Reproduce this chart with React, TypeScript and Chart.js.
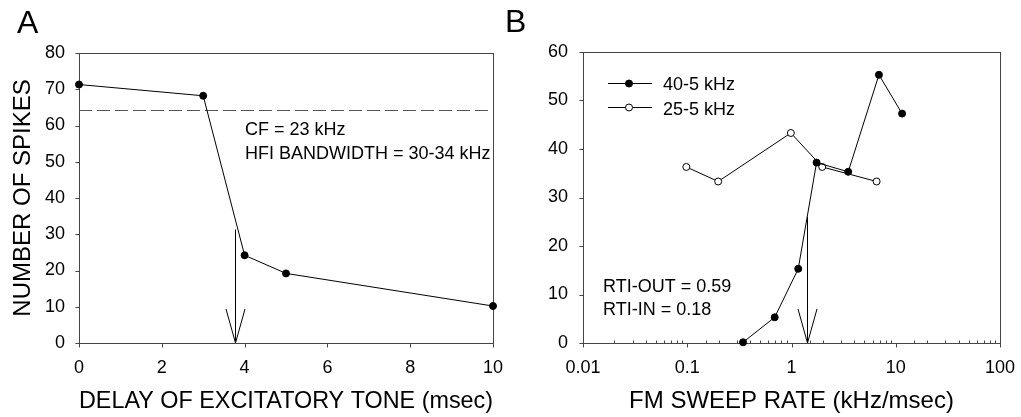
import React, { useEffect, useRef } from 'react';
import { Chart, registerables } from 'chart.js';

Chart.register(...registerables);

const FONT = "'Liberation Sans', Arial, Helvetica, sans-serif";

// ---------- Panel A data ----------
const delayMs = [0, 3, 4, 5, 10];
const delaySpikes = [71.3, 68.2, 24.2, 19.2, 10.2];
const delayRefLevel = 64.2;
const delayArrowX = 3.78;
const delayArrowTop = 31.3;
const delayXLabelStep = 2;
const delayYLabelStep = 10;
const delayXTitle = 'DELAY OF EXCITATORY TONE (msec)';
const delayYTitle = 'NUMBER OF SPIKES';
const delayNotes = ['CF = 23 kHz', 'HFI BANDWIDTH = 30-34 kHz'];

// ---------- Panel B data ----------
const rate40 = [0.343, 0.69, 1.16, 1.74, 3.5, 6.9, 11.5];
const spikes40 = [0.15, 5.3, 15.3, 37.2, 35.3, 55.3, 47.3];
const rate25 = [0.098, 0.198, 0.986, 1.97, 6.55];
const spikes25 = [36.3, 33.3, 43.3, 36.3, 33.3];
const rateArrowX = 1.42;
const rateArrowTop = 26;
const rateXTickValues = [0.01, 0.1, 1, 10, 100];
const rateXTickLabels = ['0.01', '0.1', '1', '10', '100'];
const rateYLabelStep = 10;
const rateXTitle = 'FM SWEEP RATE (kHz/msec)';
const seriesNames = ['40-5 kHz', '25-5 kHz'];
const rateNotes = ['RTI-OUT = 0.59', 'RTI-IN = 0.18'];

const c = (v: number) => Math.round(v) + 0.5;

function drawFrame(chart: any, logMinor: boolean) {
  const { ctx, chartArea: a, scales } = chart;
  ctx.save();
  ctx.strokeStyle = '#444';
  ctx.lineWidth = 1;
  ctx.strokeRect(c(a.left), c(a.top), Math.round(a.right) - Math.round(a.left), Math.round(a.bottom) - Math.round(a.top));
  ctx.beginPath();
  for (const t of scales.y.ticks) {
    const y = c(scales.y.getPixelForValue(t.value));
    ctx.moveTo(c(a.left), y);
    ctx.lineTo(c(a.left) - 4, y);
  }
  for (const t of scales.x.ticks) {
    const x = c(scales.x.getPixelForValue(t.value));
    const isMajor = !logMinor || rateXTickValues.some((v) => Math.abs(v - t.value) / v < 1e-6);
    ctx.moveTo(x, c(a.bottom));
    ctx.lineTo(x, c(a.bottom) + (isMajor ? 4 : -3));
  }
  ctx.stroke();
  ctx.restore();
}

function drawArrow(chart: any, xv: number, topv: number) {
  const { ctx, scales } = chart;
  const x = c(scales.x.getPixelForValue(xv));
  const yTop = scales.y.getPixelForValue(topv);
  const yBot = scales.y.getPixelForValue(0);
  ctx.save();
  ctx.strokeStyle = '#000';
  ctx.lineWidth = 1;
  ctx.beginPath();
  ctx.moveTo(x, yTop);
  ctx.lineTo(x, yBot);
  ctx.moveTo(x - 9.5, yBot - 34);
  ctx.lineTo(x, yBot);
  ctx.lineTo(x + 9.5, yBot - 34);
  ctx.stroke();
  ctx.restore();
}

function text(ctx: any, s: string, x: number, y: number, size: number) {
  ctx.save();
  ctx.fillStyle = '#000';
  ctx.font = `${size}px ${FONT}`;
  ctx.textBaseline = 'alphabetic';
  ctx.textAlign = 'left';
  ctx.fillText(s, x, y);
  ctx.restore();
}

const decorA = {
  id: 'decorA',
  beforeDatasetsDraw(chart: any) {
    const { ctx, chartArea: a, scales } = chart;
    drawFrame(chart, false);
    const y = c(scales.y.getPixelForValue(delayRefLevel));
    ctx.save();
    ctx.strokeStyle = '#555';
    ctx.lineWidth = 1;
    ctx.setLineDash([13, 5]);
    ctx.beginPath();
    ctx.moveTo(a.left, y);
    ctx.lineTo(a.right, y);
    ctx.stroke();
    ctx.restore();
  },
  afterDatasetsDraw(chart: any) {
    const { ctx } = chart;
    drawArrow(chart, delayArrowX, delayArrowTop);
    text(ctx, delayNotes[0], 245, 135, 18);
    text(ctx, delayNotes[1], 245, 159, 18);
    text(ctx, 'A', 17, 33, 32);
  },
};

const decorB = {
  id: 'decorB',
  beforeDatasetsDraw(chart: any) {
    drawFrame(chart, true);
  },
  afterDatasetsDraw(chart: any) {
    const { ctx } = chart;
    drawArrow(chart, rateArrowX, rateArrowTop);
    // legend
    const rows = [
      { y: 83, fill: '#000', base: 90 },
      { y: 107, fill: '#fff', base: 115 },
    ];
    rows.forEach((r, i) => {
      ctx.save();
      ctx.strokeStyle = '#000';
      ctx.lineWidth = 1;
      ctx.beginPath();
      ctx.moveTo(118, c(r.y));
      ctx.lineTo(162, c(r.y));
      ctx.stroke();
      ctx.beginPath();
      ctx.arc(139, r.y + 0.5, 3.5, 0, Math.PI * 2);
      ctx.fillStyle = r.fill;
      ctx.fill();
      ctx.stroke();
      ctx.restore();
      text(ctx, seriesNames[i], 173, r.base, 18);
    });
    text(ctx, rateNotes[0], 113, 292, 18);
    text(ctx, rateNotes[1], 113, 315, 18);
    text(ctx, 'B', 15, 32, 32);
  },
};

const tickFont = { size: 18, family: FONT };
const titleFont = { size: 24, family: FONT, lineHeight: 1.2 };

function configA(): any {
  return {
    type: 'scatter',
    data: {
      datasets: [
        {
          data: delayMs.map((x, i) => ({ x, y: delaySpikes[i] })),
          showLine: true,
          borderColor: '#000',
          borderWidth: 1,
          pointRadius: 3.5,
          pointBackgroundColor: '#000',
          pointBorderColor: '#000',
          pointBorderWidth: 1,
          clip: false,
        },
      ],
    },
    options: {
      responsive: false,
      animation: false,
      events: [],
      layout: { padding: { left: 0, right: 17, top: 53, bottom: 0 } },
      plugins: { legend: { display: false }, tooltip: { enabled: false } },
      scales: {
        x: {
          type: 'linear',
          min: 0,
          max: 10,
          afterFit(s: any) {
            s.height = 74;
            s.paddingLeft = 0;
            s.paddingRight = 0;
          },
          grid: { display: false, drawTicks: false },
          border: { display: false },
          ticks: { stepSize: delayXLabelStep, padding: 14, color: '#000', font: tickFont, maxRotation: 0, autoSkip: false },
          title: { display: true, text: delayXTitle, color: '#000', font: titleFont, padding: { top: 0, bottom: 1 } },
        },
        y: {
          type: 'linear',
          min: 0,
          max: 80,
          afterFit(s: any) {
            s.width = 79;
            s.paddingTop = 0;
            s.paddingBottom = 0;
          },
          grid: { display: false, drawTicks: false },
          border: { display: false },
          ticks: { stepSize: delayYLabelStep, padding: 14, color: '#000', font: tickFont, autoSkip: false },
          title: { display: true, text: delayYTitle, color: '#000', font: titleFont, padding: { top: 9, bottom: 0 } },
        },
      },
    },
    plugins: [decorA],
  };
}

function configB(): any {
  return {
    type: 'scatter',
    data: {
      datasets: [
        {
          label: seriesNames[0],
          data: rate40.map((x, i) => ({ x, y: spikes40[i] })),
          showLine: true,
          borderColor: '#000',
          borderWidth: 1,
          pointRadius: 3.5,
          pointBackgroundColor: '#000',
          pointBorderColor: '#000',
          pointBorderWidth: 1,
          clip: false,
        },
        {
          label: seriesNames[1],
          data: rate25.map((x, i) => ({ x, y: spikes25[i] })),
          showLine: true,
          borderColor: '#000',
          borderWidth: 1,
          pointRadius: 3.5,
          pointBackgroundColor: '#fff',
          pointBorderColor: '#000',
          pointBorderWidth: 1,
          clip: false,
        },
      ],
    },
    options: {
      responsive: false,
      animation: false,
      events: [],
      layout: { padding: { left: 0, right: 21, top: 52, bottom: 0 } },
      plugins: { legend: { display: false }, tooltip: { enabled: false } },
      scales: {
        x: {
          type: 'logarithmic',
          min: 0.01,
          max: 100,
          afterFit(s: any) {
            s.height = 74;
            s.paddingLeft = 0;
            s.paddingRight = 0;
          },
          grid: { display: false, drawTicks: false },
          border: { display: false },
          ticks: {
            padding: 14,
            color: '#000',
            font: tickFont,
            maxRotation: 0,
            autoSkip: false,
            callback: (v: number) => {
              const i = rateXTickValues.findIndex((t) => Math.abs(t - v) / t < 1e-6);
              return i >= 0 ? rateXTickLabels[i] : '';
            },
          },
          title: { display: true, text: rateXTitle, color: '#000', font: titleFont, padding: { top: 0, bottom: 1 } },
        },
        y: {
          type: 'linear',
          min: 0,
          max: 60,
          afterFit(s: any) {
            s.width = 93;
            s.paddingTop = 0;
            s.paddingBottom = 0;
          },
          grid: { display: false, drawTicks: false },
          border: { display: false },
          ticks: { stepSize: rateYLabelStep, padding: 15, color: '#000', font: tickFont, autoSkip: false },
        },
      },
    },
    plugins: [decorB],
  };
}

export default function App() {
  const refA = useRef<HTMLCanvasElement>(null);
  const refB = useRef<HTMLCanvasElement>(null);
  useEffect(() => {
    Chart.defaults.font.family = FONT;
    const a = new Chart(refA.current as HTMLCanvasElement, configA());
    const b = new Chart(refB.current as HTMLCanvasElement, configB());
    return () => {
      a.destroy();
      b.destroy();
    };
  }, []);
  return (
    <div style={{ position: 'absolute', left: 0, top: 0, width: 1021, height: 417, background: '#fff' }}>
      <canvas ref={refA} width={510} height={417} style={{ position: 'absolute', left: 0, top: 0 }} />
      <canvas ref={refB} width={531} height={417} style={{ position: 'absolute', left: 490, top: 0 }} />
    </div>
  );
}
